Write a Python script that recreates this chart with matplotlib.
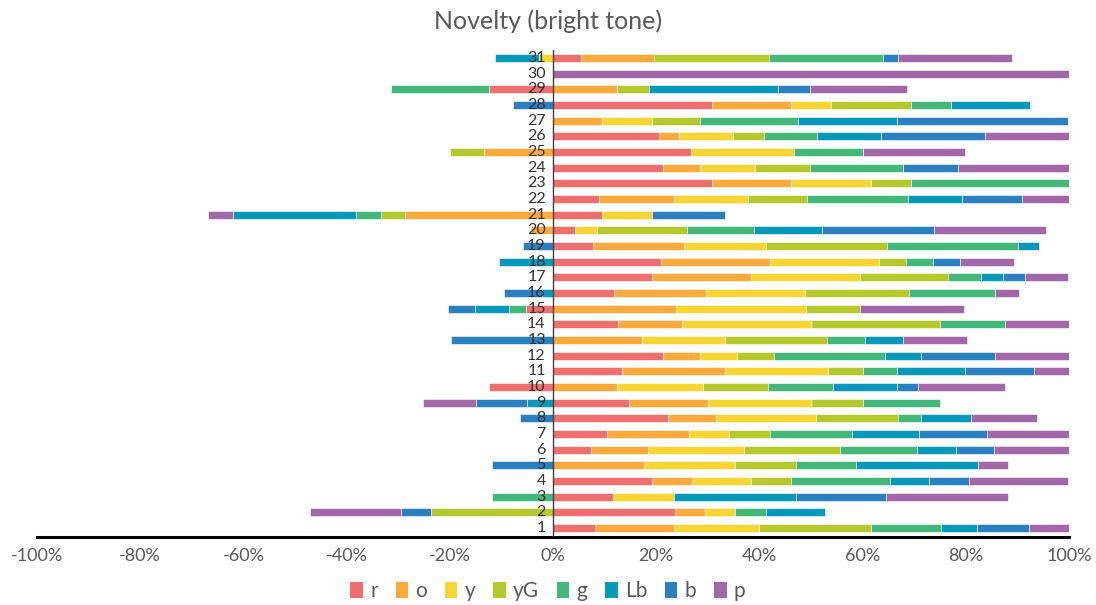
import matplotlib
matplotlib.use("Agg")
import matplotlib.pyplot as plt
from matplotlib.patches import Patch
import numpy as np

plt.rcParams['font.family'] = ['Lato', 'DejaVu Sans']

# Row labels, bottom to top
categories = [str(i) for i in range(1, 32)]

series_names = ["r", "o", "y", "yG", "g", "Lb", "b", "p"]

# Shares in percent per row (rows 1..31); negative values extend to the left
r  = [8.1, 23.6, 11.7, 19.2, 0, 7.4, 10.5, 22.2, 14.8, -12.5, 13.3, 21.4, 0, 12.5, -5.2, 11.9,
      19.1, 21.0, 7.7, 4.3, 9.5, 9.0, 30.8, 21.3, 26.7, 20.5, 0, 30.8, -12.5, 0, 5.5]
o  = [15.4, 5.9, 0, 7.7, 17.6, 11.1, 15.8, 9.3, 15.2, 12.4, 20.0, 7.1, 17.2, 12.5, 23.8, 17.8,
      19.2, 21.0, 17.6, -4.2, -28.6, 14.4, 15.4, 7.2, -13.3, 3.9, 9.5, 15.3, 12.4, 0, 14.0]
y  = [16.4, 5.7, 11.8, 11.5, 17.6, 18.6, 7.9, 19.4, 20.0, 16.7, 20.0, 7.2, 16.2, 25.0, 25.3, 19.1,
      21.2, 21.1, 15.9, 4.3, 9.6, 14.4, 15.5, 10.7, 20.0, 10.4, 9.6, 7.7, 0, 0, -2.7]
yG = [21.7, -23.6, 0, 7.7, 11.8, 18.6, 7.9, 16.0, 10.1, 12.6, 6.7, 7.2, 19.7, 25.0, 10.3, 20.2,
      17.1, 5.3, 23.6, 17.4, -4.8, 11.5, 7.6, 10.7, -6.7, 6.1, 9.4, 15.5, 6.3, 0, 22.3]
g  = [13.6, 6.0, -11.8, 19.2, 11.8, 14.9, 15.8, 4.5, 14.9, 12.5, 6.7, 21.4, 7.4, 12.5, -3.3, 16.7,
      6.4, 5.2, 25.4, 13.0, -4.8, 19.5, 30.8, 17.9, 13.4, 10.3, 19.0, 7.8, -18.8, 0, 22.2]
Lb = [6.9, 11.6, 23.5, 7.6, 23.5, 7.5, 13.0, 9.6, -5.0, 12.5, 13.1, 7.1, 7.3, 0, -6.7, -2.1,
      4.2, -10.5, 4.0, 13.1, -23.8, 10.5, 0, 0, 0, 12.3, 19.1, 15.4, 24.9, 0, -8.5]
b  = [10.1, -5.8, 17.6, 7.8, -11.8, 7.3, 13.2, -6.3, -10.0, 4.1, 13.5, 14.3, -19.8, 0, -5.2, -7.4,
      4.2, 5.3, -5.8, 21.7, 14.3, 11.6, 0, 10.7, 0, 20.3, 33.3, -7.7, 6.3, 0, 2.8]
p  = [7.8, -17.6, 23.5, 19.2, 5.9, 14.8, 15.9, 12.8, -10.1, 16.8, 6.7, 14.4, 12.5, 12.5, 20.2, 4.7,
      8.5, 10.5, 0, 21.8, -4.8, 9.1, 0, 21.5, 19.8, 16.2, 0, 0, 18.8, 100.0, 22.2]

series_values = [r, o, y, yG, g, Lb, b, p]
colors = ["#EF6F6F", "#FDAA3A", "#F9D532", "#B6C92C", "#44B87A", "#0799B9", "#2B80C1", "#A267A8"]

x_ticks = list(range(-100, 101, 20))
x_tick_labels = [f"{t}%" for t in x_ticks]

fig = plt.figure(figsize=(10.96, 6.05), dpi=100)
ax = fig.add_axes([37 / 1096, 68 / 605, (1069 - 37) / 1096, 487 / 605])

ypos = np.arange(1, len(categories) + 1)
pos_left = np.zeros(len(categories))
neg_left = np.zeros(len(categories))
for name, vals, col in zip(series_names, series_values, colors):
    vals = np.array(vals, dtype=float)
    left = np.where(vals >= 0, pos_left, neg_left)
    ax.barh(ypos, vals, left=left, height=0.52, color=col,
            edgecolor="white", linewidth=0.4, zorder=2)
    pos_left += np.where(vals >= 0, vals, 0)
    neg_left += np.where(vals < 0, vals, 0)

ax.set_xlim(-100, 100)
ax.set_ylim(0.43, 31.51)

# zero line and category labels next to it
ax.axvline(0, color="#404040", linewidth=1.0, zorder=3)
for yi, lab in zip(ypos, categories):
    ax.text(-1.4, yi, lab, ha="right", va="center", fontsize=11.5, color="#333333",
            zorder=4)

for side in ["left", "right", "top"]:
    ax.spines[side].set_visible(False)
ax.spines["bottom"].set_linewidth(2.2)
ax.spines["bottom"].set_color("black")
ax.set_yticks([])
ax.set_xticks(x_ticks)
ax.set_xticklabels(x_tick_labels, fontsize=13, color="#595959")
ax.tick_params(axis="x", length=0, pad=8)

fig.text(0.5, 1 - 21 / 605, "Novelty (bright tone)", ha="center", va="center",
         fontsize=18, color="#595959")

handles = [Patch(facecolor=c, edgecolor="none") for c in colors]
fig.legend(handles, series_names, loc="center", bbox_to_anchor=(0.5, 1 - 591 / 605),
           ncol=8, frameon=False, handlelength=0.6, handleheight=0.8,
           handletextpad=0.35, columnspacing=0.85, labelcolor="#595959",
           prop={"size": 15})

fig.savefig("out.png", dpi=100)
